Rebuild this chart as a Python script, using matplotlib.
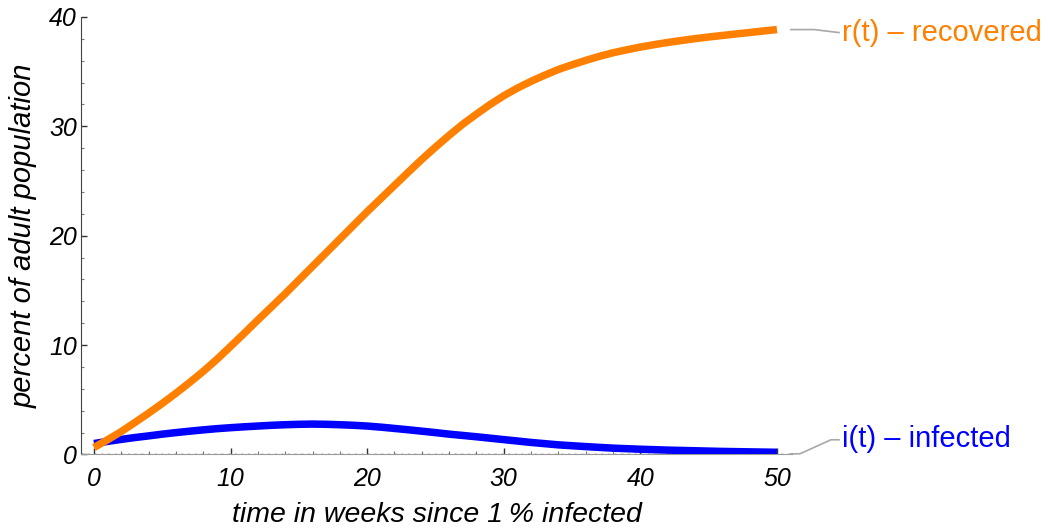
import matplotlib
matplotlib.use("Agg")
import matplotlib.pyplot as plt
import numpy as np

# weeks since 1% infected
weeks = list(range(0, 51))

# percent of adult population
recovered = [0.64, 1.35, 2.1, 2.93, 3.78, 4.67, 5.6, 6.58, 7.6, 8.7,
             9.88, 11.08, 12.3, 13.5, 14.7, 15.95, 17.2, 18.45, 19.7, 20.95,
             22.2, 23.4, 24.6, 25.8, 26.98, 28.1, 29.18, 30.2, 31.12, 32.0,
             32.8, 33.5, 34.12, 34.68, 35.2, 35.63, 36.03, 36.4, 36.73, 37.0,
             37.25, 37.47, 37.67, 37.85, 38.02, 38.17, 38.31, 38.45, 38.58, 38.72,
             38.85]
infected = [1.0, 1.2, 1.38, 1.55, 1.7, 1.86, 2.0, 2.13, 2.25, 2.36,
            2.45, 2.53, 2.6, 2.67, 2.72, 2.76, 2.78, 2.76, 2.72, 2.67,
            2.6, 2.5, 2.38, 2.26, 2.13, 2.0, 1.86, 1.74, 1.62, 1.49,
            1.36, 1.23, 1.1, 0.99, 0.88, 0.8, 0.72, 0.65, 0.58, 0.53,
            0.48, 0.44, 0.4, 0.37, 0.34, 0.31, 0.28, 0.26, 0.24, 0.22,
            0.2]

x_major = [0, 10, 20, 30, 40, 50]
y_major = [0, 10, 20, 30, 40]

orange = '#FF8000'
blue = '#0000FF'
gray = '#A8A8A8'

plt.rcParams['font.family'] = ['Liberation Sans', 'DejaVu Sans']

fig = plt.figure(figsize=(10.48, 5.31), dpi=100)
ax = fig.add_axes([0.0773, 0.1441, 0.6784, 0.8239])

ax.plot(weeks, infected, color=blue, lw=5.4, solid_capstyle='butt', zorder=3)
ax.plot(weeks, recovered, color=orange, lw=5.4, solid_capstyle='butt', zorder=4)

# dotted line along the time axis
ax.axhline(0, color='black', lw=1.0, linestyle=(0, (1.2, 3.6)), zorder=2)

ax.set_xlim(-0.95, 51.1)
ax.set_ylim(0, 40)

ax.spines['top'].set_visible(False)
ax.spines['right'].set_visible(False)
ax.spines['left'].set_color('#444444')
ax.spines['bottom'].set_color('#999999')

ax.set_xticks(x_major)
ax.set_yticks(y_major)
ax.set_xticks(np.arange(0, 51, 2), minor=True)
ax.set_yticks(np.arange(0, 41, 2), minor=True)
ax.tick_params(which='major', direction='in', length=4.5, width=1.0, color='#333333')
ax.tick_params(which='minor', direction='in', length=2.5, width=0.8, color='#777777')
ax.tick_params(axis='x', which='major', pad=9, labelsize=18)
ax.tick_params(axis='y', which='major', pad=3, labelsize=18)
for lab in ax.get_xticklabels() + ax.get_yticklabels():
    lab.set_style('italic')

ax.set_xlabel('time in weeks since 1\u2009% infected', fontsize=20.5, style='italic', labelpad=8)
ax.set_ylabel('percent of adult population', fontsize=21, style='italic', labelpad=8)

# callout leaders and labels, placed relative to the last data point
px_x = 1 / 13.66   # data units per pixel along x
px_y = 1 / 10.93   # data units per pixel along y
t_end = weeks[-1]

r_end = recovered[-1]
ax.plot([t_end + 14 * px_x, t_end + 37 * px_x, t_end + 62 * px_x],
        [r_end, r_end, r_end - 3 * px_y],
        color=gray, lw=1.2, clip_on=False)
ax.text(t_end + 65 * px_x, r_end - 3 * px_y, 'r(t) \u2013 recovered', color=orange,
        fontsize=21, ha='left', va='center', clip_on=False)

i_end = infected[-1]
ax.plot([t_end + 14 * px_x, t_end + 23 * px_x, t_end + 54 * px_x, t_end + 62 * px_x],
        [i_end - 1.5 * px_y, i_end - 1.5 * px_y, i_end + 12.5 * px_y, i_end + 12.5 * px_y],
        color=gray, lw=1.2, clip_on=False)
ax.text(t_end + 65 * px_x, i_end + 13 * px_y, 'i(t) \u2013 infected', color=blue,
        fontsize=21, ha='left', va='center', clip_on=False)

fig.savefig('out.png', dpi=100)
